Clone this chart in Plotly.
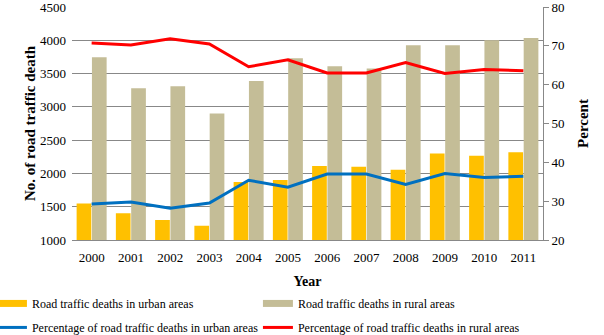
import plotly.graph_objects as go

years = ["2000", "2001", "2002", "2003", "2004", "2005", "2006", "2007", "2008", "2009", "2010", "2011"]
urban_deaths = [1550, 1400, 1300, 1215, 1870, 1900, 2110, 2100, 2055, 2300, 2265, 2320]
rural_deaths = [3745, 3280, 3310, 2900, 3390, 3730, 3610, 3575, 3925, 3925, 4000, 4035]
urban_pct = [29.3, 29.8, 28.2, 29.5, 35.4, 33.6, 37.0, 37.0, 34.3, 37.1, 36.1, 36.4]
rural_pct = [70.7, 70.2, 71.8, 70.5, 64.6, 66.4, 63.0, 63.0, 65.7, 62.9, 63.9, 63.6]

names = ["Road traffic deaths in urban areas", "Road traffic deaths in rural areas",
         "Percentage of road traffic deaths in urban areas", "Percentage of road traffic deaths in rural areas"]
colors = ["#FFC000", "#C4BD97", "#0070C0", "#FF0000"]

FONT = "Liberation Serif"

fig = go.Figure()
fig.add_trace(go.Bar(x=years, y=urban_deaths, name=names[0], showlegend=False,
                     marker=dict(color=colors[0], line=dict(width=0))))
fig.add_trace(go.Bar(x=years, y=rural_deaths, name=names[1], showlegend=False,
                     marker=dict(color=colors[1], line=dict(width=0))))
fig.add_trace(go.Scatter(x=years, y=urban_pct, name=names[2], showlegend=False,
                         mode="lines", line=dict(color=colors[2], width=3), yaxis="y2"))
fig.add_trace(go.Scatter(x=years, y=rural_pct, name=names[3], showlegend=False,
                         mode="lines", line=dict(color=colors[3], width=3), yaxis="y2"))

# legend-only entries (wide swatches like the original); bars in row 1, lines in row 2
legend_widths = [7, 7, 3, 3]
legend_ids = ["legend", "legend", "legend2", "legend2"]
for n, c, w, lg in zip(names, colors, legend_widths, legend_ids):
    fig.add_trace(go.Scatter(x=[None], y=[None], name=n, mode="lines", legend=lg,
                             line=dict(color=c, width=w), showlegend=True))

legend_common = dict(orientation="h", x=-0.170, xanchor="left", yanchor="top",
                     entrywidth=221, entrywidthmode="pixels", traceorder="normal",
                     font=dict(family=FONT, size=12), tracegroupgap=0,
                     bgcolor="rgba(0,0,0,0)")

fig.update_layout(
    width=604, height=335,
    margin=dict(l=72, r=61, t=7, b=95, autoexpand=False),
    paper_bgcolor="white", plot_bgcolor="white",
    font=dict(family=FONT, size=13, color="black"),
    barmode="group", bargap=0.22, bargroupgap=0.04,
    showlegend=True,
    legend=dict(legend_common, y=-0.210),
    legend2=dict(legend_common, y=-0.313),
    xaxis=dict(type="category", showline=True, linecolor="#888888", linewidth=1,
               ticks="", showgrid=False, ticklabelstandoff=5,
               title=dict(text="<b>Year</b>", font=dict(family=FONT, size=14), standoff=12),
               tickfont=dict(family=FONT, size=13)),
    yaxis=dict(range=[1000, 4500], dtick=500, showgrid=True, gridcolor="#888888", gridwidth=1,
               showline=False, zeroline=False, ticks="", ticklabeloverflow="allow",
               ticklabelstandoff=5,
               title=dict(text="<b>No. of road traffic death</b>", font=dict(family=FONT, size=15), standoff=0),
               tickfont=dict(family=FONT, size=13)),
    yaxis2=dict(range=[20, 80], dtick=10, overlaying="y", side="right", showgrid=False,
                showline=True, linecolor="#888888", linewidth=1, ticks="outside", ticklen=5,
                tickcolor="#888888", zeroline=False, ticklabeloverflow="allow",
                title=dict(text="<b>Percent</b>", font=dict(family=FONT, size=15), standoff=13),
                tickfont=dict(family=FONT, size=13)),
)

fig.write_html("out.html", config={"displayModeBar": False},
               post_script="document.body.style.margin='0px';document.body.style.padding='0px';")
